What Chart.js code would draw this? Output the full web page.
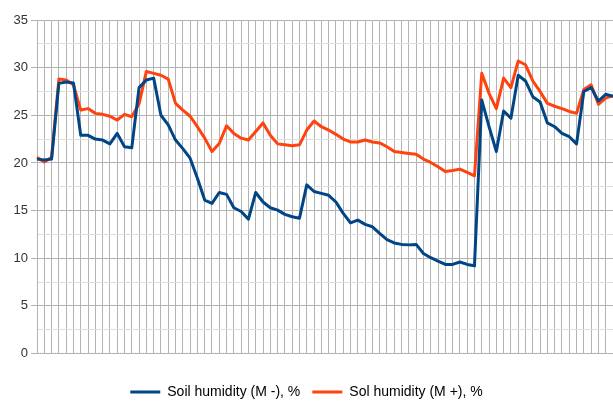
<!DOCTYPE html>
<html>
<head>
<meta charset="utf-8">
<script src="https://cdn.jsdelivr.net/npm/chart.js@4/dist/chart.umd.min.js"></script>
<style>
html, body { margin: 0; padding: 0; background: #ffffff; overflow: hidden; }
#wrap { width: 613px; height: 401px; overflow: hidden; position: relative; }
#wrap canvas { display: block; }
</style>
</head>
<body>
<div id="wrap"><canvas id="c" width="613" height="409"></canvas></div>
<script>
const categories = Array.from({length: 80}, (_, i) => String(i + 1));

const soilMinus = [
  20.4, 20.3, 20.4, 28.35, 28.5, 28.4, 22.9, 22.9, 22.5, 22.4,
  22.0, 23.1, 21.7, 21.6, 27.9, 28.7, 28.9, 25.0, 24.0, 22.4,
  21.5, 20.5, 18.4, 16.1, 15.75, 16.9, 16.7, 15.3, 14.9, 14.1,
  16.9, 15.9, 15.3, 15.05, 14.6, 14.35, 14.2, 17.7, 17.0, 16.8,
  16.6, 15.9, 14.7, 13.7, 14.0, 13.55, 13.3, 12.6, 11.95, 11.6,
  11.45, 11.4, 11.45, 10.5, 10.05, 9.7, 9.35, 9.35, 9.6, 9.35,
  9.2, 26.6, 23.8, 21.2, 25.45, 24.7, 29.2, 28.6, 26.95, 26.4,
  24.2, 23.8, 23.1, 22.75, 22.0, 27.5, 27.9, 26.5, 27.2, 27.0
];

const soilPlus = [
  20.6, 20.1, 20.6, 28.8, 28.7, 28.2, 25.55, 25.7, 25.2, 25.1,
  24.9, 24.5, 25.1, 24.85, 26.2, 29.6, 29.4, 29.2, 28.8, 26.25,
  25.55, 24.9, 23.8, 22.6, 21.2, 22.05, 23.9, 23.1, 22.6, 22.4,
  23.3, 24.2, 22.9, 22.0, 21.9, 21.8, 21.9, 23.45, 24.4, 23.8,
  23.45, 23.0, 22.5, 22.2, 22.2, 22.4, 22.2, 22.1, 21.7, 21.2,
  21.1, 21.0, 20.9, 20.4, 20.05, 19.6, 19.1, 19.2, 19.35, 19.0,
  18.65, 29.4, 27.3, 25.7, 28.9, 27.9, 30.7, 30.3, 28.6, 27.5,
  26.25, 25.95, 25.7, 25.4, 25.2, 27.7, 28.2, 26.15, 26.8, 27.05
];

const seriesNames = ['Soil humidity (M -), %', 'Sol humidity (M +), %'];
const yTickLabels = ['0', '5', '10', '15', '20', '25', '30', '35'];

const FONT = "'Liberation Sans', Arial, sans-serif";

new Chart(document.getElementById('c'), {
  type: 'line',
  data: {
    labels: categories,
    datasets: [
      {
        label: seriesNames[0],
        data: soilMinus,
        borderColor: '#004586',
        backgroundColor: '#004586',
        borderWidth: 3,
        pointRadius: 0,
        tension: 0,
        borderJoinStyle: 'round'
      },
      {
        label: seriesNames[1],
        data: soilPlus,
        borderColor: '#ff420e',
        backgroundColor: '#ff420e',
        borderWidth: 3,
        pointRadius: 0,
        tension: 0,
        borderJoinStyle: 'round'
      }
    ]
  },
  options: {
    responsive: false,
    animation: false,
    devicePixelRatio: 1,
    layout: { padding: { left: 0, right: 0, top: 20, bottom: 0 } },
    plugins: {
      tooltip: { enabled: false },
      legend: {
        position: 'bottom',
        labels: {
          usePointStyle: true,
          pointStyle: 'line',
          pointStyleWidth: 30,
          padding: 12,
          color: '#000000',
          font: { family: FONT, size: 14 }
        }
      }
    },
    scales: {
      x: {
        type: 'category',
        offset: false,
        ticks: { display: false, autoSkip: false },
        grid: { color: '#b3b3b3', drawTicks: false, lineWidth: 1 },
        border: { display: true, color: '#b3b3b3' },
        afterFit: (s) => { s.height = 19.5; }
      },
      y: {
        min: 0,
        max: 35,
        ticks: {
          stepSize: 2.5,
          autoSkip: false,
          padding: 3,
          color: '#333333',
          font: { family: FONT, size: 13 },
          callback: (v) => (v % 5 === 0 ? yTickLabels[v / 5] : '')
        },
        grid: {
          tickLength: 6,
          color: (ctx) => (ctx.tick && ctx.tick.value % 5 === 0 ? '#b3b3b3' : '#dddddd'),
          tickColor: (ctx) => (ctx.tick && ctx.tick.value % 5 === 0 ? '#b3b3b3' : 'rgba(0,0,0,0)')
        },
        border: { display: true, color: '#b3b3b3' },
        afterFit: (s) => { s.width = 37; }
      }
    }
  }
});
</script>
</body>
</html>
